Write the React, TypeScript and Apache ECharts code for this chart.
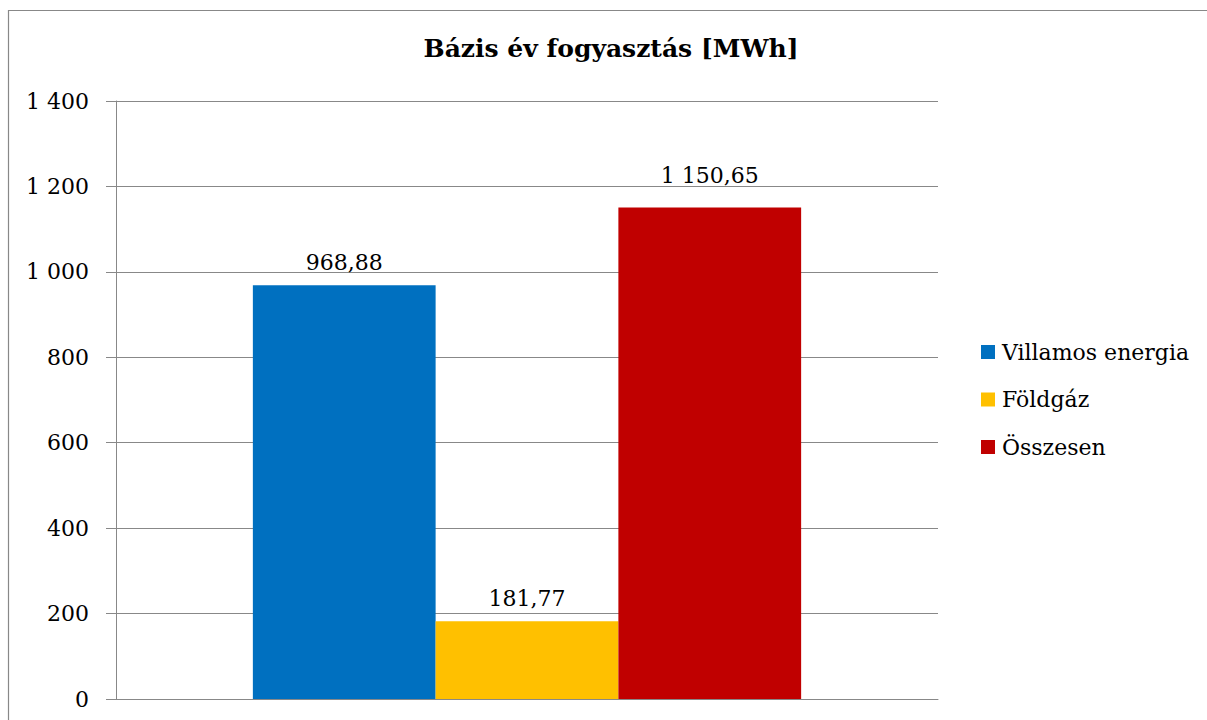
import React, { useEffect, useRef } from "react";
import * as echarts from "echarts";

const categories = [""];
const seriesNames = ["Villamos energia", "Földgáz", "Összesen"];
const seriesValues = [968.88, 181.77, 1150.65];
const seriesColors = ["#0070C0", "#FFC000", "#C00000"];
const labelDistances = [12, 12, 21];
const titleText = "Bázis év fogyasztás [MWh]";

const FONT = "DejaVu Serif";

function groupThousands(s: string): string {
  return s.replace(/\B(?=(\d{3})+(?!\d))/g, " ");
}
function fmtValue(v: number): string {
  const [i, d] = v.toFixed(2).split(".");
  return groupThousands(i) + "," + d;
}

export default function App() {
  const ref = useRef<HTMLDivElement>(null);
  useEffect(() => {
    document.body.style.margin = "0";
    document.body.style.overflow = "hidden";
    const chart = echarts.init(ref.current!, null, { renderer: "svg" });
    chart.setOption({
      animation: false,
      backgroundColor: "#ffffff",
      graphic: [
        {
          type: "rect",
          silent: true,
          shape: { x: 8.5, y: 10.5, width: 1300, height: 900 },
          style: { fill: "none", stroke: "#888888", lineWidth: 1.2 },
        },
        {
          type: "text",
          x: 611,
          y: 48,
          style: {
            text: titleText,
            font: `bold 25px "${FONT}"`,
            fill: "#000000",
            align: "center",
            verticalAlign: "middle",
          },
        },
      ],
      legend: {
        orient: "vertical",
        left: 981,
        top: 341,
        padding: 0,
        itemWidth: 14,
        itemHeight: 14,
        itemGap: 25.5,
        icon: "rect",
        data: seriesNames,
        textStyle: {
          fontFamily: FONT,
          fontSize: 22,
          color: "#000000",
          lineHeight: 22,
          padding: [0, 0, 0, 2],
        },
      },
      grid: { left: 116, top: 101, right: 269, bottom: 21, containLabel: false },
      xAxis: {
        type: "category",
        data: categories,
        axisLine: { show: true, lineStyle: { color: "#888888", width: 1 } },
        axisTick: { show: false },
        axisLabel: { show: false },
      },
      yAxis: {
        type: "value",
        min: 0,
        max: 1400,
        interval: 200,
        axisLine: { show: true, lineStyle: { color: "#888888", width: 1 } },
        axisTick: { show: true, length: 10, lineStyle: { color: "#888888", width: 1 } },
        splitLine: { show: true, lineStyle: { color: "#888888", width: 1 } },
        axisLabel: {
          margin: 27,
          color: "#000000",
          fontFamily: FONT,
          fontSize: 22,
          formatter: (v: number) => groupThousands(String(v)),
        },
      },
      series: seriesNames.map((name, i) => ({
        name,
        type: "bar",
        data: [seriesValues[i]],
        barGap: "0%",
        barCategoryGap: "33.3%",
        itemStyle: { color: seriesColors[i] },
        label: {
          show: true,
          position: "top",
          distance: labelDistances[i],
          color: "#000000",
          fontFamily: FONT,
          fontSize: 22,
          formatter: (p: any) => fmtValue(p.value),
        },
      })),
    });
    return () => chart.dispose();
  }, []);
  return <div ref={ref} style={{ width: 1207, height: 720 }} />;
}
